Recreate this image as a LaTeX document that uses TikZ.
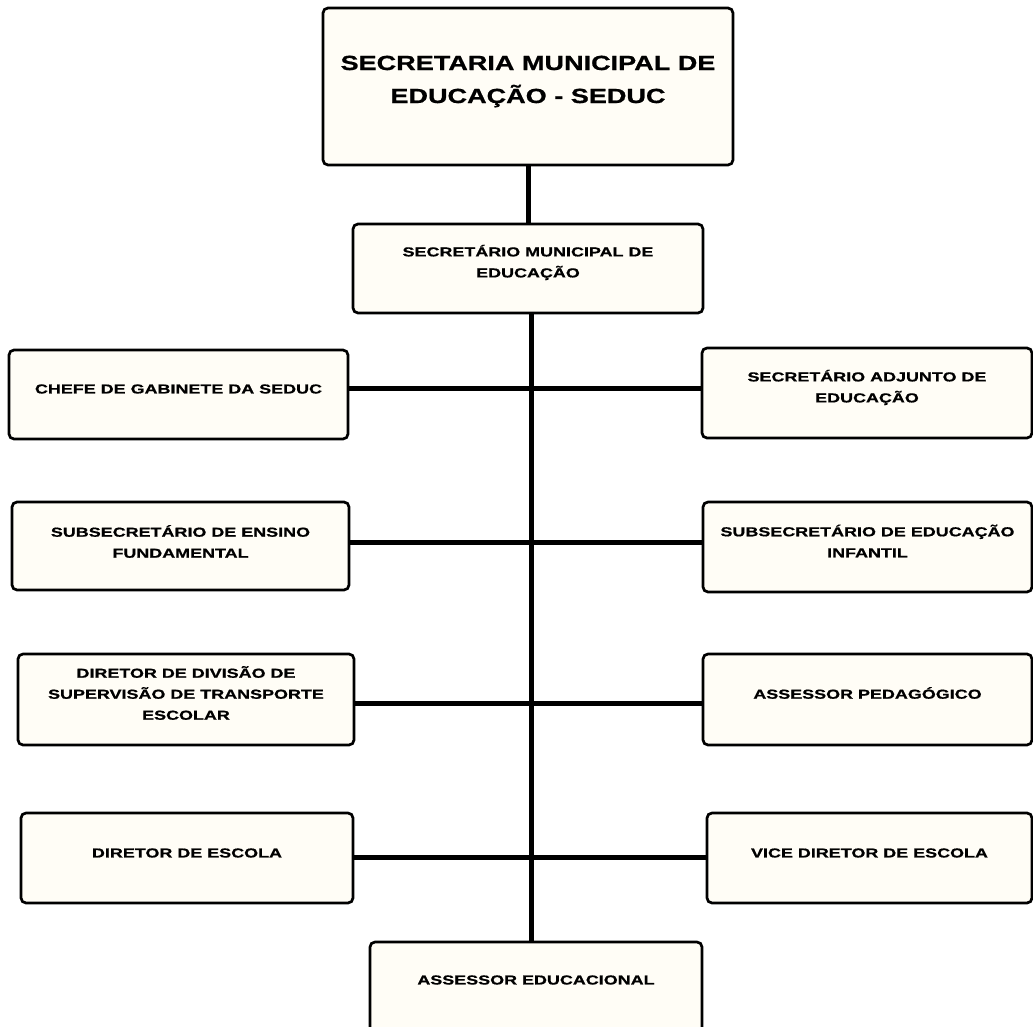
\documentclass[tikz,border=0pt]{standalone}
\usepackage{fontspec}
\newfontfamily\smallfont{Liberation Sans}[FakeStretch=1.38,BoldFeatures={FakeBold=0.8}]
\newfontfamily\bigfont{Liberation Sans}[FakeStretch=1.32,BoldFeatures={FakeBold=0.8}]
\definecolor{boxfill}{RGB}{255,253,246}
\begin{document}
\begin{tikzpicture}[x=1pt,y=-1pt,
  orgbox/.style={draw=black, line width=2.7pt, rounded corners=5pt, fill=boxfill, inner sep=0pt},
  conn/.style={line width=5pt, draw=black},
  lbl/.style={align=center, inner sep=0pt, font=\smallfont\bfseries\fontsize{13}{21}\selectfont},
  biglbl/.style={align=center, inner sep=0pt, font=\bigfont\bfseries\fontsize{20.5}{33}\selectfont}]
\path[use as bounding box] (0,0) rectangle (1033,1027);
\clip (0,0) rectangle (1033,1027);
\fill[white] (0,0) rectangle (1033,1027);

% boxes
\node[orgbox, minimum width=410pt, minimum height=157pt] (top) at (528,86.5) {};
\node[orgbox, minimum width=350pt, minimum height=89pt] (sec) at (528,268.5) {};
\node[orgbox, minimum width=339pt, minimum height=89pt] (chefe) at (178.5,394.5) {};
\node[orgbox, minimum width=330pt, minimum height=90pt] (secadj) at (867,393) {};
\node[orgbox, minimum width=337pt, minimum height=88pt] (subef) at (180.5,546) {};
\node[orgbox, minimum width=329pt, minimum height=90pt] (subei) at (867.5,547) {};
\node[orgbox, minimum width=336pt, minimum height=91pt] (ddiv) at (186,699.5) {};
\node[orgbox, minimum width=329pt, minimum height=91pt] (aped) at (867.5,699.5) {};
\node[orgbox, minimum width=332pt, minimum height=90pt] (desc) at (187,858) {};
\node[orgbox, minimum width=325pt, minimum height=90pt] (vice) at (869.5,858) {};
\node[orgbox, minimum width=332pt, minimum height=90pt] (ae) at (536,987) {};

% texts
\node[biglbl] (top-t) at ([yshift=5pt]top.center) {SECRETARIA MUNICIPAL DE\\EDUCAÇÃO - SEDUC};
\node[lbl] (sec-t) at ([yshift=6pt]sec.center) {SECRETÁRIO MUNICIPAL DE\\EDUCAÇÃO};
\node[lbl] (chefe-t) at ([yshift=5.5pt]chefe.center) {CHEFE DE GABINETE DA SEDUC};
\node[lbl] (secadj-t) at ([yshift=5.5pt]secadj.center) {SECRETÁRIO ADJUNTO DE\\EDUCAÇÃO};
\node[lbl] (subef-t) at ([yshift=4.5pt]subef.center) {SUBSECRETÁRIO DE ENSINO\\FUNDAMENTAL};
\node[lbl] (subei-t) at ([yshift=6pt]subei.center) {SUBSECRETÁRIO DE EDUCAÇÃO\\INFANTIL};
\node[lbl] (ddiv-t) at ([yshift=6.5pt]ddiv.center) {DIRETOR DE DIVISÃO DE\\SUPERVISÃO DE TRANSPORTE\\ESCOLAR};
\node[lbl] (aped-t) at ([yshift=6.5pt]aped.center) {ASSESSOR PEDAGÓGICO};
\node[lbl] (desc-t) at ([yshift=5pt]desc.center) {DIRETOR DE ESCOLA};
\node[lbl] (vice-t) at ([yshift=5pt]vice.center) {VICE DIRETOR DE ESCOLA};
\node[lbl] (ae-t) at ([yshift=7pt]ae.center) {ASSESSOR EDUCACIONAL};

% trunk and rows
\coordinate (tx) at (531,0);
\coordinate (r1) at (531,388);
\coordinate (r2) at (531,542);
\coordinate (r3) at (531,703);
\coordinate (r4) at (531,857);
\draw[conn] (top.south) -- (sec.north);
\draw[conn] (sec.south -| tx) -- (ae.north -| tx);
\draw[conn] (chefe.east |- r1) -- (secadj.west |- r1);
\draw[conn] (subef.east |- r2) -- (subei.west |- r2);
\draw[conn] (ddiv.east |- r3) -- (aped.west |- r3);
\draw[conn] (desc.east |- r4) -- (vice.west |- r4);
\end{tikzpicture}
\end{document}
